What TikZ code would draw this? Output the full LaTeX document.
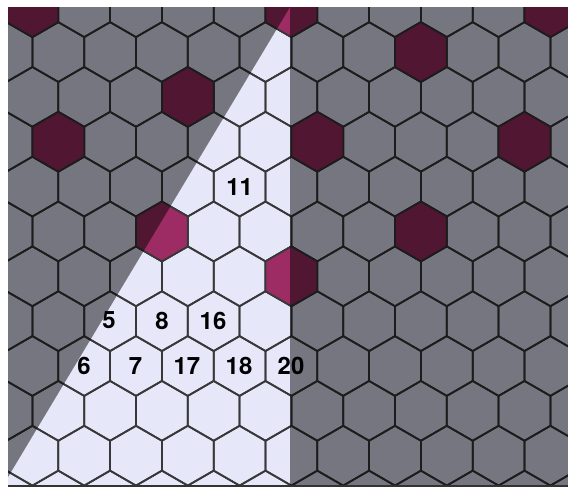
\documentclass[tikz,border=0pt]{standalone}
\usepackage{fontspec}
\setsansfont{TeX Gyre Heros}
\definecolor{paper}{RGB}{230,232,250}
\definecolor{plum}{RGB}{158,44,100}
\tikzset{
  cell/.style={draw=black!78, line width=1.25pt, line join=round},
  hot/.style={cell, fill=plum},
  veil/.style={fill=black, fill opacity=0.49},
  num/.style={font=\sffamily\bfseries\fontsize{17}{20}\selectfont, inner sep=0pt}
}
% lattice cell (i,j): centre at (136+51.8(i+j/2), 366-44.85j), radius 29.9
\newcommand{\hexcell}[3]{%
  \pgfmathsetmacro\cx{136+51.8*(#2+0.5*#3)}
  \pgfmathsetmacro\cy{366-44.85*#3}
  \draw[#1] (\cx,\cy) +(30:29.9) -- +(90:29.9) -- +(150:29.9) -- +(210:29.9)
    -- +(270:29.9) -- +(330:29.9) -- cycle;
}

\begin{document}
\begin{tikzpicture}[x=0.025cm, y=-0.025cm]
  \useasboundingbox (0,0) rectangle (568,488);
  \fill[paper] (8,7) rectangle (568,486);

  \begin{scope}
    \clip (8,7) rectangle (568,486);
    \foreach \j in {-3,...,9}
      \foreach \i in {-12,...,12}
        {\hexcell{cell}{\i}{\j}}
    % marked cells
    \foreach \i/\j in {-6/8, -1/8, 4/8, 2/7, -2/6, -4/5, 1/5, 5/5, -1/3, 4/3, 2/2}
      {\hexcell{hot}{\i}{\j}}
  \end{scope}

  % shaded part outside the wedge
  \fill[veil] (8,7) -- (290,7) -- (8,477) -- cycle;
  \fill[veil] (290,7) rectangle (568,486);
  \draw[black!80, line width=0.9pt] (8,486) -- (568,486);

  \node[num] (n11) at (239.6,187) {11};
  \node[num] (n5)  at (109,320.5) {5};
  \node[num] (n8)  at (161.9,320.5) {8};
  \node[num] (n16) at (213,320.5) {16};
  \node[num] (n6)  at (84,366) {6};
  \node[num] (n7)  at (135.5,366) {7};
  \node[num] (n17) at (187,366) {17};
  \node[num] (n18) at (239,366) {18};
  \node[num] (n20) at (291,366) {20};
\end{tikzpicture}
\end{document}
